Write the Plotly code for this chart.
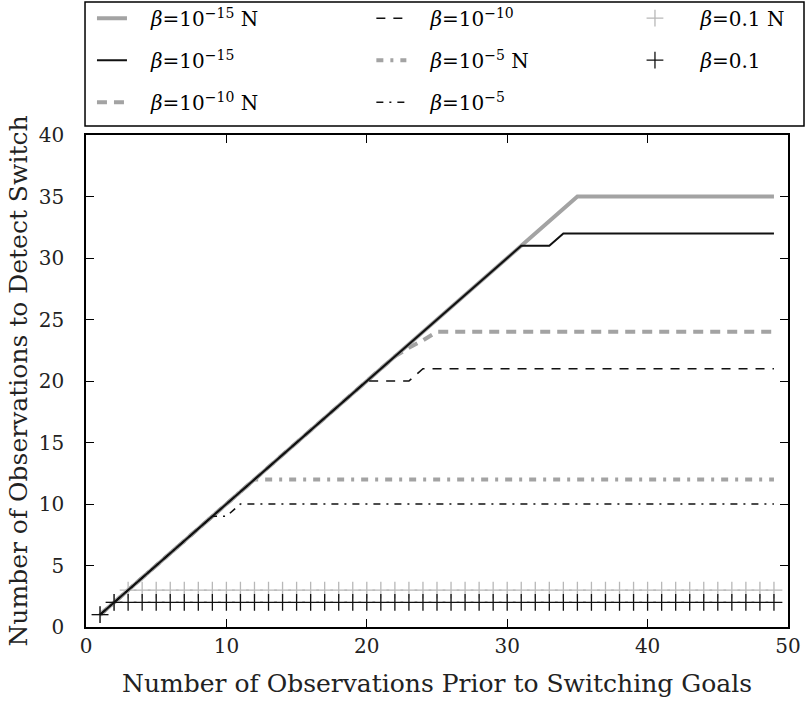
import plotly.graph_objects as go

x = list(range(1, 50))

# beta = 1e-15 N (gray solid)
y_15N = [min(v, 35) for v in x]
# beta = 1e-15 (black solid)
y_15 = [v if v <= 31 else (31 if v <= 33 else 32) for v in x]
# beta = 1e-10 N (gray dashed)
y_10N = [v if v <= 22 else {23: 22.7, 24: 23.3}.get(v, 24) for v in x]
# beta = 1e-10 (black dashed)
y_10 = [v if v <= 20 else (20 if v <= 23 else 21) for v in x]
# beta = 1e-5 N (gray dash-dot)
y_5N = [min(v, 12) for v in x]
# beta = 1e-5 (black dash-dot)
y_5 = [v if v <= 9 else (9 if v == 10 else 10) for v in x]
# beta = 0.1 N (gray plus)
y_01N = [min(v, 3) for v in x]
# beta = 0.1 (black plus)
y_01 = [min(v, 2) for v in x]

GRAY = "#a3a3a3"
LGRAY = "#b8b8b8"
BLACK = "#111111"
FONT = "DejaVu Serif"
SP = "&nbsp;&nbsp;&nbsp;"

def lab(exp, n=False):
    s = SP + "<i>β</i>=10<sup>−%s</sup>" % exp
    return s + (" N" if n else "")

L15N, L15, L10N, L10, L5N, L5 = lab("15", True), lab("15"), lab("10", True), lab("10"), lab("5", True), lab("5")
L01N = SP + "&nbsp;<i>β</i>=0.1 N"
L01 = SP + "&nbsp;<i>β</i>=0.1"

fig = go.Figure()
fig.add_trace(go.Scatter(x=x, y=y_15N, mode="lines", name=L15N,
                         line=dict(color=GRAY, width=4), legend="legend"))
fig.add_trace(go.Scatter(x=x, y=y_10N, mode="lines", name=L10N,
                         line=dict(color=GRAY, width=4, dash="10px,7px"), legend="legend"))
fig.add_trace(go.Scatter(x=x, y=y_5N, mode="lines", name=L5N,
                         line=dict(color=GRAY, width=4, dash="7px,7px,3px,7px"), legend="legend2"))
fig.add_trace(go.Scatter(x=x, y=y_01N, mode="markers", name=L01N,
                         marker=dict(symbol="cross-thin", size=12, color=LGRAY,
                                     line=dict(color=LGRAY, width=1.3)), legend="legend3"))
fig.add_trace(go.Scatter(x=x, y=y_15, mode="lines", name=L15,
                         line=dict(color=BLACK, width=2), legend="legend"))
fig.add_trace(go.Scatter(x=x, y=y_10, mode="lines", name=L10,
                         line=dict(color=BLACK, width=1.6, dash="9px,8px"), legend="legend2"))
fig.add_trace(go.Scatter(x=x, y=y_5, mode="lines", name=L5,
                         line=dict(color=BLACK, width=1.6, dash="7px,6px,2px,6px"), legend="legend2"))
fig.add_trace(go.Scatter(x=x, y=y_01, mode="markers", name=L01,
                         marker=dict(symbol="cross-thin", size=12, color=BLACK,
                                     line=dict(color=BLACK, width=1.3)), legend="legend3"))

order = {L15N: 1, L15: 2, L10N: 3, L10: 1, L5N: 2, L5: 3, L01N: 1, L01: 2}
for t in fig.data:
    t.legendrank = order[t.name]
    t.legendgroup = t.name

leg_common = dict(font=dict(family=FONT, size=20, color="black"), bgcolor="rgba(0,0,0,0)",
                  borderwidth=0, itemwidth=30, tracegroupgap=13, traceorder="grouped",
                  xanchor="left", yanchor="top", y=1.277)
fig.update_layout(
    legend=dict(x=0.0085, **leg_common),
    legend2=dict(x=0.4065, **leg_common),
    legend3=dict(x=0.782, **leg_common),
)

fig.add_shape(type="rect", xref="paper", yref="paper",
              x0=-0.0014, x1=1.0228, y0=1.0183, y1=1.2703,
              line=dict(color="black", width=1.5), fillcolor="rgba(0,0,0,0)")

axis_common = dict(showgrid=False, zeroline=False, showline=True, linecolor="black", linewidth=1.5,
                   mirror="allticks", ticks="inside", ticklen=8, tickwidth=1, tickcolor="black",
                   tickfont=dict(family=FONT, size=20, color="#222"))
fig.update_xaxes(range=[0, 50], dtick=10, tick0=0,
                 title=dict(text="Number of Observations Prior to Switching Goals",
                            font=dict(family=FONT, size=25, color="#222"), standoff=18),
                 **axis_common)
fig.update_yaxes(range=[0, 40], dtick=5, tick0=0, ticklabelstandoff=16,
                 title=dict(text="Number of Observations to Detect Switch",
                            font=dict(family=FONT, size=25, color="#222"), standoff=4),
                 **axis_common)

fig.update_layout(width=805, height=702,
                  margin=dict(l=86, r=17, t=135, b=75, autoexpand=False),
                  plot_bgcolor="white", paper_bgcolor="white", showlegend=True)

fig.write_html("out.html")
